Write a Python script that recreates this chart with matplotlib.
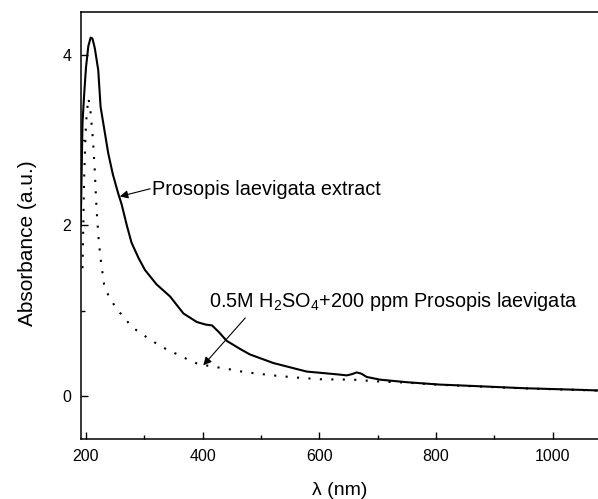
import numpy as np
import matplotlib
matplotlib.use("Agg")
import matplotlib.pyplot as plt
from matplotlib.ticker import MultipleLocator

plt.rcParams["font.family"] = ["Liberation Sans", "DejaVu Sans"]
plt.rcParams["mathtext.fontset"] = "custom"
plt.rcParams["mathtext.rm"] = "Liberation Sans"

# Prosopis laevigata extract (solid)
extract_x = [191, 194, 197, 200, 204, 208, 211, 215, 221, 225, 232, 238, 246, 255, 261, 270,
             278, 290, 301, 321, 344, 367, 390, 405, 416, 428, 441, 464, 481, 521, 578, 610, 635,
             647, 656, 664, 672, 681, 704, 750, 807, 850, 900, 950, 1000, 1050, 1080]
extract_y = [2.0, 3.2, 3.55, 3.85, 4.1, 4.2, 4.19, 4.08, 3.82, 3.39, 3.1, 2.85, 2.6, 2.38, 2.25, 2.0,
             1.80, 1.62, 1.48, 1.31, 1.17, 0.97, 0.87, 0.84, 0.83, 0.75, 0.65, 0.555, 0.49, 0.39, 0.29, 0.27, 0.254,
             0.245, 0.26, 0.28, 0.265, 0.227, 0.195, 0.165, 0.137, 0.125, 0.11, 0.095, 0.085, 0.075, 0.068]

# 0.5M H2SO4 + 200 ppm Prosopis laevigata (dotted)
acid_x = [194, 197, 200, 204, 207, 212, 215, 218, 222, 226, 231, 239, 251, 265, 281, 300, 319,
          338, 357, 375, 395, 413, 433, 452, 470, 489, 520, 560, 601, 658, 695, 750, 800, 850,
          900, 950, 1000, 1050, 1080]
acid_y = [1.5, 2.6, 3.2, 3.49, 3.39, 3.0, 2.65, 2.2, 1.81, 1.56, 1.31, 1.17, 1.04, 0.92, 0.80, 0.71, 0.625,
          0.55, 0.49, 0.43, 0.37, 0.355, 0.33, 0.31, 0.285, 0.27, 0.245, 0.22, 0.20, 0.195, 0.176, 0.16, 0.137, 0.122,
          0.107, 0.093, 0.083, 0.073, 0.066]

fig = plt.figure(figsize=(5.98, 4.99), dpi=100)
ax = fig.add_axes([0.1355, 0.1202, 0.8660, 0.8558])

ax.plot(extract_x, extract_y, color="black", lw=1.5, solid_joinstyle="round")
ax.plot(acid_x, acid_y, color="black", lw=1.5, linestyle=(0, (1, 4.5)))

ax.set_xlim(191.5, 1079)
ax.set_ylim(-0.5, 4.5)
ax.xaxis.set_major_locator(MultipleLocator(200))
ax.xaxis.set_minor_locator(MultipleLocator(100))
ax.yaxis.set_major_locator(MultipleLocator(2))
ax.yaxis.set_minor_locator(MultipleLocator(1))
ax.tick_params(which="both", direction="in", top=False, right=False, labelsize=11.5, width=1)
ax.tick_params(which="major", length=5, pad=7)
ax.tick_params(which="minor", length=3)
for s in ["left", "bottom", "top"]:
    ax.spines[s].set_linewidth(1.1)
ax.spines["right"].set_visible(False)

ax.set_xlabel("\u03bb (nm)", fontsize=14, labelpad=13)
ax.set_ylabel("Absorbance (a.u.)", fontsize=15, labelpad=18, y=0.458)

arrow = dict(arrowstyle="-|>", color="black", lw=0.8, mutation_scale=12, shrinkA=0, shrinkB=0)
ax.annotate("", xy=(258, 2.34), xytext=(310, 2.43), arrowprops=arrow)
ax.text(313, 2.42, "Prosopis laevigata extract", fontsize=14.3, ha="left", va="center")

ax.annotate("", xy=(401, 0.363), xytext=(473, 0.918), arrowprops=arrow)
ax.text(411, 1.05, r"0.5M H$_2$SO$_4$+200 ppm Prosopis laevigata", fontsize=14.3,
        ha="left", va="baseline")

fig.savefig("out.png", dpi=100)
